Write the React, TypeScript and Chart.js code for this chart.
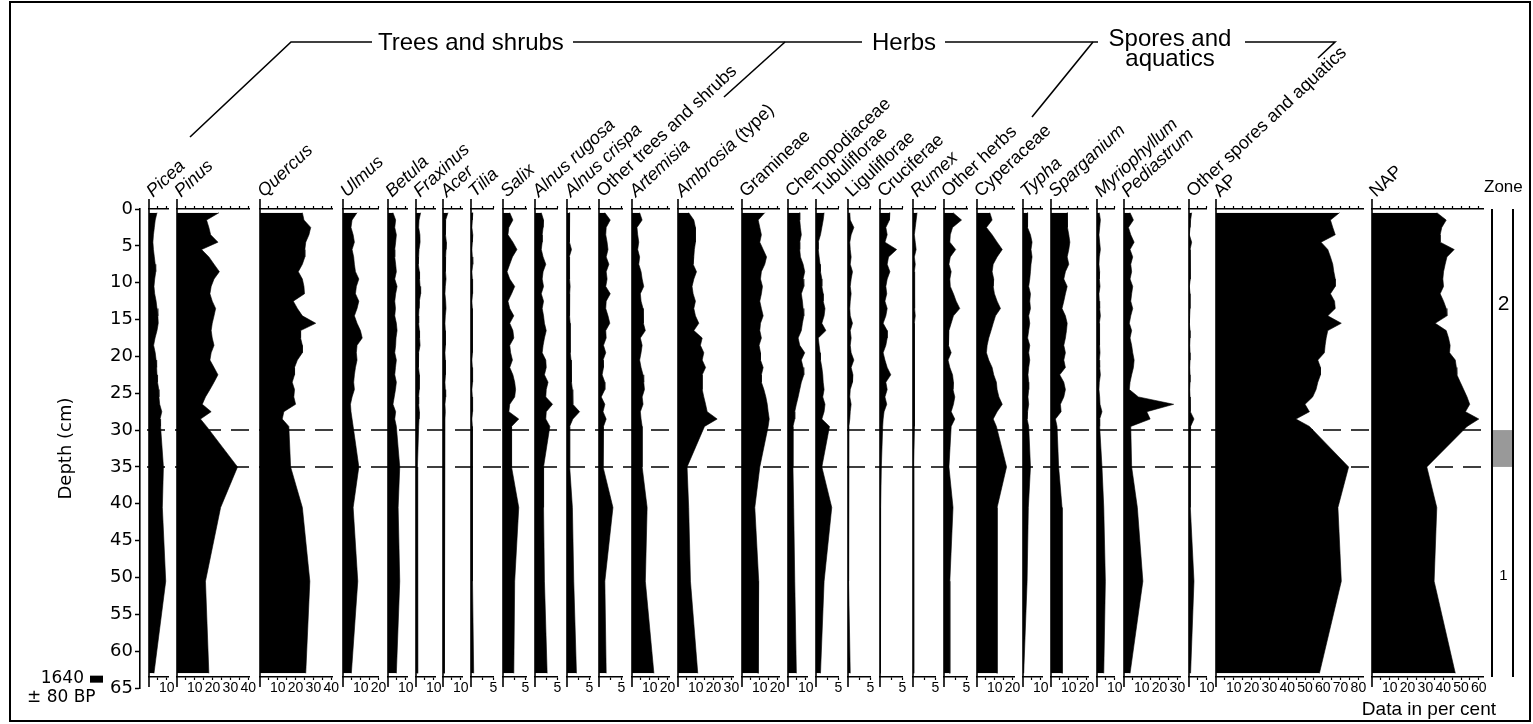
import React, { useEffect, useRef } from "react";
import { Chart, registerables } from "chart.js";

Chart.register(...registerables);

const SANS = '"Liberation Sans", Arial, Helvetica, sans-serif';
const WIDE = '"DejaVu Sans", Verdana, sans-serif';
Chart.defaults.color = "#000";
Chart.defaults.font.family = SANS;

// ---------------- data (per cent) ----------------
const depths = [0.5, 1.5, 2.5, 3.5, 4.5, 5.5, 6.5, 7.5, 8.5, 9.5, 10.5, 11.5, 12.5, 13.5, 14.5, 15.5, 16.5, 17.5, 18.5, 19.5, 20.5, 21.5, 22.5, 23.5, 24.5, 25.5, 26.5, 27.5, 28.5, 29.5, 35, 40.5, 50.5, 63];

const picea = [4.5, 3.5, 3, 2.5, 2.2, 2.5, 3, 3.5, 3.8, 3.2, 2.8, 3.2, 4, 4.5, 5, 5.2, 4.5, 3.4, 2.6, 3.5, 4, 4.3, 4.5, 4.8, 5.5, 5.6, 6, 7.2, 6.2, 6.5, 8.1, 7.5, 9.4, 2.8];
const pinus = [23.6, 16.6, 17.9, 18.9, 23, 13.8, 17.9, 20.8, 23.8, 20.8, 19.2, 18.5, 19.8, 21.7, 20.8, 19.8, 19.2, 19.8, 20.8, 19.2, 18.5, 20.8, 23, 20.8, 18.5, 16, 14.2, 19.2, 13.2, 16.6, 34, 24.5, 16, 17.9];
const quercus = [23.8, 24.7, 28.5, 27.5, 25.7, 25.2, 25.2, 23.8, 21.5, 23.8, 24.7, 25, 18.7, 21, 23.8, 31.3, 22.8, 22.8, 23.8, 23.8, 21, 19.4, 19.4, 18.1, 19.4, 19, 20, 13.4, 12.5, 16.2, 17.2, 23.8, 28, 25.7];
const ulmus = [7.9, 5.1, 4.5, 5.7, 6.4, 5.1, 6, 6.4, 7, 8.9, 7.5, 7, 8.9, 7.9, 6.4, 7.9, 9.8, 10.8, 7.9, 7.5, 7.9, 7, 6.4, 6, 6.4, 5.1, 4.2, 4.5, 5.1, 5.7, 8.9, 5.7, 8.3, 4.7];
const betula = [2.8, 4.3, 3.8, 4.7, 4.3, 3.8, 3.8, 4.3, 4.7, 3.8, 5.1, 4.3, 3.8, 4.2, 3.8, 4.7, 5.1, 4.5, 4.3, 3.8, 4.7, 4.2, 3.8, 4.7, 4.2, 3.5, 2.8, 4.3, 3.8, 4.7, 6.6, 5.7, 6.6, 4.7];
const fraxinus = [2.6, 1.7, 1.5, 2.2, 2.3, 1.7, 1.5, 1.3, 1.9, 2, 2.3, 2.6, 1.9, 1.7, 1.5, 1.5, 1.9, 2, 2.3, 1.5, 1.3, 1.5, 1.9, 1.9, 1.7, 1.5, 1.5, 1.9, 1.7, 1.5, 0.8, 0.8, 1, 1];
const acer = [2.8, 1.5, 1.3, 1.5, 1.9, 1.7, 1.5, 1.3, 1.5, 1.7, 1.3, 1.1, 1.5, 1.7, 1.3, 1.1, 1.3, 1.5, 1.3, 1.1, 1.3, 1.5, 1.3, 1.1, 1.3, 1.5, 1.1, 1.3, 1.1, 0.9, 0.8, 0.8, 0.8, 0.6];
const tilia = [0.4, 0.3, 0.2, 0.4, 0.3, 0.2, 0.3, 0.4, 0.2, 0.3, 0.4, 0.3, 0.2, 0.3, 0.4, 0.3, 0.3, 0.3, 0.4, 0.3, 0.2, 0.3, 0.4, 0.3, 0.2, 0.3, 0.4, 0.3, 0.2, 0.3, 0.3, 0.3, 0.4, 0.6];
const salix = [1.5, 2.2, 1.3, 1.1, 2.2, 3.1, 2.1, 1.5, 0.9, 1.5, 2.6, 1.9, 1.1, 1.5, 2.4, 1.5, 2.2, 2.4, 1.5, 1.7, 2.1, 1.5, 2.2, 2.6, 2.8, 2.6, 1.5, 1.3, 3.5, 1.9, 1.9, 3.5, 2.6, 2.4];
const alnusRugosa = [1.4, 1.9, 1.8, 1.6, 1.6, 1.4, 1.8, 2.4, 1.8, 1.6, 1.9, 1.4, 1.9, 1.6, 1.9, 2.1, 2.5, 2.1, 1.8, 1.6, 2.4, 2.5, 2.1, 2.9, 2.5, 2.4, 3.9, 2.5, 2.4, 3.3, 1.9, 1.9, 2.1, 2.7];
const alnusCrispa = [0.6, 0.5, 0.5, 0.6, 0.6, 1, 0.5, 0.5, 0.6, 0.6, 0.7, 0.6, 0.5, 0.6, 0.6, 0.7, 0.7, 0.7, 0.7, 0.8, 0.9, 0.9, 1, 1.1, 1.2, 1.3, 1.3, 2.8, 1.3, 0.6, 0.6, 1.2, 1.5, 2.1];
const otherTrees = [1.3, 2.5, 1.6, 1.5, 1.8, 2, 1.6, 2.2, 1.6, 1.8, 1.5, 2.5, 1.6, 1.5, 2, 2.4, 1.5, 1.6, 1, 1.5, 0.9, 1, 0.7, 1.3, 1.3, 0.5, 1.3, 0.9, 1.6, 1, 0.9, 3.1, 1.3, 1.6];
const artemisia = [4.3, 5.7, 2.8, 3.2, 3.8, 3.2, 4.3, 3.8, 5.1, 5.7, 6.6, 4.7, 5.1, 6.2, 6.6, 6.2, 7.5, 4.7, 5.7, 5.1, 4.3, 5.1, 6.2, 6.6, 7, 5.7, 6.2, 4.7, 5.1, 5.7, 5.7, 8.5, 7.5, 12.3];
const ambrosia = [6, 8.9, 9.8, 9.8, 9.8, 9.2, 8.9, 8.5, 10.4, 8.9, 7.9, 8.5, 9.8, 8.9, 9.8, 11.7, 8.9, 13.6, 12.6, 14.5, 13.6, 15.5, 13.6, 13.6, 13.6, 14.5, 15.5, 16.4, 22, 14.9, 5.1, 6, 7, 11.1];
const gramineae = [12.8, 9.1, 10, 10.9, 10, 11.9, 13.8, 12.8, 10.9, 10.4, 11.5, 10.9, 10, 10.9, 11.9, 10.4, 10, 10.9, 9.6, 10.4, 10.4, 11.9, 10.9, 10.9, 12.3, 13.4, 14.2, 14.7, 15.3, 14.7, 10, 7.2, 9.4, 9.1];
const chenopodiaceae = [6.6, 6.6, 7, 7.5, 6.6, 6.6, 7, 8.5, 9.4, 8.5, 8.9, 7.5, 8.1, 8.5, 8.9, 8.1, 7.5, 5.7, 6.6, 9.4, 7.5, 8.5, 8.9, 7.5, 6.6, 5.7, 4.7, 3.8, 3.8, 2.8, 2.8, 3.2, 3.8, 4.7];
const tubuliflorae = [1.8, 1.6, 1.3, 1, 0.5, 0.5, 0.7, 0.9, 1, 1.3, 1.3, 1.6, 1.6, 2, 1.8, 1.3, 2.2, 0.5, 0.7, 0.9, 1, 1.3, 1.5, 1.6, 1.8, 1.5, 2, 1.8, 1.3, 3, 1.3, 3.5, 1.8, 1];
const liguliflorae = [0.4, 0.5, 1.3, 0.7, 0.4, 0.5, 0.7, 0.5, 1, 0.7, 0.5, 0.7, 0.5, 0.4, 0.5, 1, 0.5, 0.7, 0.5, 0.7, 1.3, 0.7, 1.1, 1, 0.5, 0.4, 0.7, 0.5, 0.4, 0.2, 0.15, 0.15, 0.1, 0.5];
const cruciferae = [2.2, 2.1, 1.3, 1.6, 1.1, 3.7, 1.9, 1.6, 2.2, 1.6, 1.3, 1.5, 1.1, 1.6, 1.3, 0.7, 1.6, 1.6, 1.3, 0.7, 1.1, 1.6, 2.4, 1.3, 1.6, 1.1, 1.5, 0.9, 0.7, 0.6, 0.3, 0.15, 0.1, 0.1];
const rumex = [0.9, 0.7, 0.5, 0.3, 0.5, 0.7, 0.3, 0.5, 0.3, 0.4, 0.3, 0.4, 0.3, 0.4, 0.5, 0.3, 0.4, 0.3, 0.4, 0.3, 0.3, 0.4, 0.3, 0.3, 0.4, 0.3, 0.3, 0.4, 0.3, 0.3, 0.15, 0.15, 0.15, 0.2];
const otherHerbs = [2, 3.9, 1.9, 1.4, 1.3, 2.6, 1.4, 1.1, 1.6, 1.3, 1.4, 2.1, 2.7, 3.5, 2.1, 1.6, 1.1, 0.9, 1.1, 1.6, 0.9, 1.3, 1.9, 2.1, 2, 2.4, 2.1, 1.6, 2.4, 1.6, 1.1, 2, 1.3, 1.3];
const cyperaceae = [7.2, 8.5, 5.3, 8.5, 11.3, 14.2, 11.3, 9.1, 8.5, 9.4, 9.1, 9.8, 11.3, 13.2, 10.4, 9.1, 7.9, 6.6, 5.7, 5.3, 6.6, 8.5, 9.4, 10.9, 11.3, 12.3, 14.2, 11.3, 9.1, 10.9, 16.6, 11.3, 11.3, 11.3];
const typha = [2.6, 2.3, 2.8, 4.2, 5.1, 4.5, 5.1, 4.5, 4.2, 3.8, 3.2, 4.2, 3.8, 4.2, 3.2, 3.8, 3.2, 2.6, 3.8, 3.2, 3.8, 3.2, 2.8, 3.2, 3.2, 2.8, 3.2, 2.6, 2.3, 3.2, 4.2, 3, 2.3, 0.4];
const sparganium = [9.1, 9.4, 9.1, 10, 10.6, 10, 9.1, 10, 8.1, 7.2, 9.1, 8.1, 7.2, 6.2, 8.1, 9.1, 8.7, 8.1, 7.2, 8.1, 7.2, 8.1, 4.9, 7.2, 8.1, 7.2, 5.3, 5.7, 2.5, 3.4, 4.3, 6.2, 6.2, 6.4];
const myriophyllum = [1.3, 1.9, 1.5, 1.1, 1.5, 1.9, 1.3, 1.1, 1.5, 1.3, 1.7, 1.1, 1.3, 1.5, 1.9, 1.3, 1.5, 1.5, 1.3, 1.7, 1.3, 1.5, 1.9, 1.3, 1.1, 1.5, 1.7, 2.8, 1.5, 1.5, 2.8, 3.8, 4.7, 3.8];
const pediastrum = [3.4, 5.3, 2.5, 3.8, 5.7, 3.4, 4.9, 3.8, 4.3, 3.4, 4.9, 4.3, 3.8, 4.9, 3.8, 3, 4.3, 3.4, 4.3, 4.9, 5.7, 5.3, 4.3, 3.4, 3, 8.1, 27.9, 12.8, 14.7, 3.8, 4.3, 7.5, 10.6, 3.4];
const otherSpores = [1.5, 0.9, 0.6, 0.2, 1.5, 0.6, 0.6, 0.9, 0.9, 0.6, 0.2, 0.6, 0.6, 0.6, 0.4, 0.2, 0.6, 0.6, 0.4, 0.6, 0.6, 0.4, 0.6, 0.6, 0.4, 0.6, 0.9, 0.6, 2.8, 0.9, 0.6, 0.9, 2.8, 0.9];
const ap = [69.4, 64.3, 65.6, 67, 59, 62.8, 64.3, 65.6, 66.2, 67, 67, 64.3, 66.6, 67, 62.8, 70.4, 62.8, 61.9, 61.3, 60.9, 57.2, 58.7, 58.7, 57.2, 56.2, 54.3, 50, 52.5, 44.9, 52.5, 74.5, 68.5, 70.4, 58.1];
const nap = [36.4, 41.7, 39.2, 38.3, 38.3, 46.2, 42.1, 41.1, 40.2, 39.8, 40.2, 38.3, 40.2, 41.7, 42.1, 35.5, 41.7, 43, 43.9, 43.6, 46.8, 47.4, 47.7, 49.6, 51.5, 53.4, 54.9, 52.5, 60, 53.4, 30.8, 36.4, 34.9, 46.8];

// axis ticks
const ticks5 = [2.5, 5];
const ticks10 = [5, 10];
const ticks20 = [5, 10, 15, 20];
const ticks30 = [5, 10, 15, 20, 25, 30];
const ticks40 = [5, 10, 15, 20, 25, 30, 35, 40];
const ticks60 = [5, 10, 15, 20, 25, 30, 35, 40, 45, 50, 55, 60];
const ticks80 = [5, 10, 15, 20, 25, 30, 35, 40, 45, 50, 55, 60, 65, 70, 75, 80];
const labelsTens = [10, 20, 30, 40, 50, 60, 70, 80];
const labelsFive = [5];
const depthTicks = [0, 5, 10, 15, 20, 25, 30, 35, 40, 45, 50, 55, 60, 65];

// zones
const zoneBoundaries = [30, 35];
const zoneBand = [30, 35];
const zoneNames = ["2", "1"];
const zoneLabelDepths = [12.9, 49.8];
const dateDepth = 63.8;
const dateText = ["1640", "\u00b1 80 BP"];

// ---------------- layout ----------------
const S = 1.78; // px per % (normal)
const S5 = 4.5; // px per % (exaggerated)
const AREA_TOP = 209;
const AREA_BOTTOM = 677;
const PANEL_DEPTH_MAX = 63.5;
const DEPTH_MAX = 65;

type Panel = {
  name: string;
  rest?: string;
  italic: boolean;
  values: number[];
  left: number;
  max: number;
  ppu: number;
  ticks: number[];
  labels: number[];
};

const panels: Panel[] = [
  { name: "Picea", italic: true, values: picea, left: 149, max: 10.7, ppu: S, ticks: ticks10, labels: labelsTens },
  { name: "Pinus", italic: true, values: pinus, left: 177, max: 41, ppu: S, ticks: ticks40, labels: labelsTens },
  { name: "Quercus", italic: true, values: quercus, left: 260, max: 41, ppu: S, ticks: ticks40, labels: labelsTens },
  { name: "Ulmus", italic: true, values: ulmus, left: 343, max: 20.2, ppu: S, ticks: ticks20, labels: labelsTens },
  { name: "Betula", italic: true, values: betula, left: 388, max: 10.7, ppu: S, ticks: ticks10, labels: labelsTens },
  { name: "Fraxinus", italic: true, values: fraxinus, left: 416, max: 10.7, ppu: S, ticks: ticks10, labels: labelsTens },
  { name: "Acer", italic: true, values: acer, left: 443, max: 10.7, ppu: S, ticks: ticks10, labels: labelsTens },
  { name: "Tilia", italic: true, values: tilia, left: 471, max: 5.1, ppu: S5, ticks: ticks5, labels: labelsFive },
  { name: "Salix", italic: true, values: salix, left: 503, max: 5.3, ppu: S5, ticks: ticks5, labels: labelsFive },
  { name: "Alnus rugosa", italic: true, values: alnusRugosa, left: 535, max: 5.1, ppu: S5, ticks: ticks5, labels: labelsFive },
  { name: "Alnus crispa", italic: true, values: alnusCrispa, left: 567, max: 5.3, ppu: S5, ticks: ticks5, labels: labelsFive },
  { name: "Other trees and shrubs", italic: false, values: otherTrees, left: 599, max: 5.3, ppu: S5, ticks: ticks5, labels: labelsFive },
  { name: "Artemisia", italic: true, values: artemisia, left: 632, max: 20.8, ppu: S, ticks: ticks20, labels: labelsTens },
  { name: "Ambrosia", rest: " (type)", italic: true, values: ambrosia, left: 678, max: 30.9, ppu: S, ticks: ticks30, labels: labelsTens },
  { name: "Gramineae", italic: false, values: gramineae, left: 742, max: 21.3, ppu: S, ticks: ticks20, labels: labelsTens },
  { name: "Chenopodiaceae", italic: false, values: chenopodiaceae, left: 788, max: 10.7, ppu: S, ticks: ticks10, labels: labelsTens },
  { name: "Tubuliflorae", italic: false, values: tubuliflorae, left: 816, max: 5.1, ppu: S5, ticks: ticks5, labels: labelsFive },
  { name: "Liguliflorae", italic: false, values: liguliflorae, left: 848, max: 5.1, ppu: S5, ticks: ticks5, labels: labelsFive },
  { name: "Cruciferae", italic: false, values: cruciferae, left: 880, max: 5.1, ppu: S5, ticks: ticks5, labels: labelsFive },
  { name: "Rumex", italic: true, values: rumex, left: 913, max: 4.9, ppu: S5, ticks: ticks5, labels: labelsFive },
  { name: "Other herbs", italic: false, values: otherHerbs, left: 944, max: 5.3, ppu: S5, ticks: ticks5, labels: labelsFive },
  { name: "Cyperaceae", italic: false, values: cyperaceae, left: 977, max: 20.8, ppu: S, ticks: ticks20, labels: labelsTens },
  { name: "Typha", italic: true, values: typha, left: 1023, max: 10.7, ppu: S, ticks: ticks10, labels: labelsTens },
  { name: "Sparganium", italic: true, values: sparganium, left: 1051, max: 20.8, ppu: S, ticks: ticks20, labels: labelsTens },
  { name: "Myriophyllum", italic: true, values: myriophyllum, left: 1097, max: 10.1, ppu: S, ticks: ticks10, labels: labelsTens },
  { name: "Pediastrum", italic: true, values: pediastrum, left: 1124, max: 31.5, ppu: S, ticks: ticks30, labels: labelsTens },
  { name: "Other spores and aquatics", italic: false, values: otherSpores, left: 1189, max: 10.1, ppu: S, ticks: ticks10, labels: labelsTens },
  { name: "AP", italic: false, values: ap, left: 1216, max: 82.6, ppu: S, ticks: ticks80, labels: labelsTens },
  { name: "NAP", italic: false, values: nap, left: 1372, max: 62.4, ppu: S, ticks: ticks60, labels: labelsTens },
];

const ZONE_LEFT = 1492;
const ZONE_RIGHT = 1513;
const DASH_START = 147;

const headerLines: number[][][] = [
  [[190, 137], [291, 42], [372, 42]],
  [[573, 42], [862, 42]],
  [[785, 42], [724, 97]],
  [[945, 42], [1098, 42]],
  [[1093, 42], [1032, 117]],
  [[1245, 42], [1335, 42], [1318, 58]],
];

// ---------------- panel chart ----------------
const PADX = 16;
const PADTOP = 10;
const TOPH = 4;
const BOTH = 26;
const PADBOT = 2;

const leftLinePlugin = {
  id: "leftLine",
  afterDraw(chart: any) {
    const { ctx, chartArea } = chart;
    const x = chart.scales.x.getPixelForValue(0);
    ctx.save();
    ctx.strokeStyle = "#000";
    ctx.lineWidth = 1.6;
    ctx.beginPath();
    ctx.moveTo(x, chartArea.top - 10);
    ctx.lineTo(x, chartArea.bottom + 10);
    ctx.stroke();
    ctx.restore();
  },
};

function PanelChart({ p }: { p: Panel }) {
  const ref = useRef<HTMLCanvasElement>(null);
  const areaW = p.max * p.ppu;
  const W = Math.ceil(areaW) + 2 * PADX;
  const H = PADTOP + TOPH + (AREA_BOTTOM - AREA_TOP) + BOTH + PADBOT;
  useEffect(() => {
    const setTicks = (scale: any) => {
      scale.ticks = p.ticks.map((v) => ({ value: v }));
    };
    const grid = {
      display: true,
      drawOnChartArea: false,
      drawTicks: true,
      tickLength: 3,
      tickColor: "#000",
      tickWidth: 1.2,
      color: "#000",
    };
    const border = { display: true, color: "#000", width: 1.5 };
    const chart = new Chart(ref.current as HTMLCanvasElement, {
      type: "line",
      data: {
        datasets: [
          {
            data: depths.map((d, i) => ({ x: p.values[i], y: d })),
            fill: "origin",
            backgroundColor: "#000",
            borderColor: "#000",
            borderWidth: 0.6,
            pointRadius: 0,
            tension: 0,
          },
        ],
      },
      options: {
        indexAxis: "y",
        animation: false,
        responsive: false,
        devicePixelRatio: 1,
        events: [],
        layout: { padding: { left: PADX, right: W - PADX - areaW, top: PADTOP, bottom: PADBOT } },
        plugins: { legend: { display: false }, tooltip: { enabled: false } },
        scales: {
          x: {
            type: "linear",
            position: "bottom",
            min: 0,
            max: p.max,
            bounds: "data",
            grid,
            border,
            ticks: {
              display: true,
              padding: 0,
              autoSkip: false,
              maxRotation: 0,
              minRotation: 0,
              color: "#000",
              font: { family: SANS, size: 14 },
              callback: (v: any) => (p.labels.includes(Number(v)) ? String(v) : ""),
            },
            afterBuildTicks: setTicks,
            afterFit: (s: any) => {
              s.height = BOTH;
              s.paddingLeft = 0;
              s.paddingRight = 0;
            },
          },
          xTop: {
            type: "linear",
            axis: "x",
            position: "top",
            min: 0,
            max: p.max,
            bounds: "data",
            grid,
            border,
            ticks: { display: false },
            afterBuildTicks: setTicks,
            afterFit: (s: any) => {
              s.height = TOPH;
              s.paddingLeft = 0;
              s.paddingRight = 0;
            },
          },
          y: { type: "linear", min: 0, max: PANEL_DEPTH_MAX, reverse: true, display: false },
        },
      } as any,
      plugins: [leftLinePlugin],
    });
    return () => chart.destroy();
  }, []);
  return (
    <canvas
      ref={ref}
      width={W}
      height={H}
      style={{ position: "absolute", left: p.left - PADX, top: AREA_TOP - PADTOP - TOPH, width: W, height: H }}
    />
  );
}

// ---------------- background (depth axis, zones, header lines) ----------------
const bgPlugin = {
  id: "bgDecor",
  afterDraw(chart: any) {
    const { ctx } = chart;
    const y = chart.scales.y;
    ctx.save();
    ctx.strokeStyle = "#000";
    ctx.lineWidth = 1.6;
    headerLines.forEach((pts) => {
      ctx.beginPath();
      pts.forEach(([px, py], i) => (i === 0 ? ctx.moveTo(px, py) : ctx.lineTo(px, py)));
      ctx.stroke();
    });
    ctx.lineWidth = 1.5;
    ctx.setLineDash([18, 10]);
    zoneBoundaries.forEach((d) => {
      const py = y.getPixelForValue(d);
      ctx.beginPath();
      ctx.moveTo(DASH_START, py);
      ctx.lineTo(ZONE_LEFT, py);
      ctx.stroke();
    });
    ctx.setLineDash([]);
    const top = y.getPixelForValue(0);
    const bot = y.getPixelForValue(PANEL_DEPTH_MAX);
    ctx.fillStyle = "#999999";
    const b0 = y.getPixelForValue(zoneBand[0]);
    const b1 = y.getPixelForValue(zoneBand[1]);
    ctx.fillRect(ZONE_LEFT, b0, ZONE_RIGHT - ZONE_LEFT, b1 - b0);
    ctx.lineWidth = 2;
    [ZONE_LEFT, ZONE_RIGHT].forEach((x) => {
      ctx.beginPath();
      ctx.moveTo(x, top);
      ctx.lineTo(x, bot);
      ctx.stroke();
    });
    ctx.fillStyle = "#000";
    ctx.textAlign = "center";
    ctx.textBaseline = "middle";
    zoneNames.forEach((n, i) => {
      ctx.font = `${i === 0 ? 21 : 15}px ${SANS}`;
      ctx.fillText(n, (ZONE_LEFT + ZONE_RIGHT) / 2 + 1, y.getPixelForValue(zoneLabelDepths[i]));
    });
    const yd = y.getPixelForValue(dateDepth);
    ctx.fillRect(90, yd - 3.5, 13, 7);
    ctx.font = `17px ${WIDE}`;
    ctx.textAlign = "right";
    ctx.fillText(dateText[0], 84, yd - 1);
    ctx.textAlign = "left";
    ctx.fillText(dateText[1], 27, yd + 18);
    ctx.restore();
  },
};

function BackgroundChart() {
  const ref = useRef<HTMLCanvasElement>(null);
  useEffect(() => {
    const chart = new Chart(ref.current as HTMLCanvasElement, {
      type: "line",
      data: { datasets: [] },
      options: {
        animation: false,
        responsive: false,
        devicePixelRatio: 1,
        events: [],
        layout: { padding: { left: 0, right: 40, top: AREA_TOP, bottom: 724 - 688 } },
        plugins: { legend: { display: false }, tooltip: { enabled: false } },
        scales: {
          x: { type: "linear", min: 0, max: 1, display: false },
          y: {
            type: "linear",
            position: "left",
            min: 0,
            max: DEPTH_MAX,
            reverse: true,
            afterBuildTicks: (s: any) => {
              s.ticks = depthTicks.map((v) => ({ value: v }));
            },
            ticks: { color: "#000", padding: 2, font: { family: WIDE, size: 18 } },
            grid: { display: true, drawOnChartArea: false, drawTicks: true, tickLength: 5, tickColor: "#000", tickWidth: 1.5, color: "#000" },
            border: { display: true, color: "#000", width: 1.6 },
            title: { display: true, text: "Depth (cm)", color: "#000", font: { family: WIDE, size: 18 }, padding: { top: 56, bottom: 0 } },
            afterFit: (s: any) => {
              s.width = 140;
              s.paddingTop = 0;
              s.paddingBottom = 0;
            },
          },
        },
      } as any,
      plugins: [bgPlugin],
    });
    return () => chart.destroy();
  }, []);
  return <canvas ref={ref} width={1533} height={724} style={{ position: "absolute", left: 0, top: 0, width: 1533, height: 724 }} />;
}

// ---------------- page ----------------
const LABEL_SIZE = 18;
const HEAD_SIZE = 24;

export default function App() {
  return (
    <div
      style={{
        position: "absolute",
        left: 0,
        top: 0,
        width: 1533,
        height: 724,
        background: "#fff",
        overflow: "hidden",
        fontFamily: SANS,
        color: "#000",
      }}
    >
      <BackgroundChart />
      {panels.map((p) => (
        <PanelChart key={p.name} p={p} />
      ))}
      {panels.map((p) => (
        <div
          key={"l" + p.name}
          style={{
            position: "absolute",
            left: p.left + 6,
            top: 200 - LABEL_SIZE,
            height: LABEL_SIZE,
            lineHeight: LABEL_SIZE + "px",
            fontSize: LABEL_SIZE,
            whiteSpace: "nowrap",
            transformOrigin: "0 100%",
            transform: "rotate(-43deg)",
          }}
        >
          <span style={{ fontStyle: p.italic ? "italic" : "normal" }}>{p.name}</span>
          {p.rest ? <span>{p.rest}</span> : null}
        </div>
      ))}
      <div style={{ position: "absolute", left: 378, top: 28, fontSize: HEAD_SIZE, lineHeight: "28px", whiteSpace: "nowrap" }}>Trees and shrubs</div>
      <div style={{ position: "absolute", left: 872, top: 28, fontSize: HEAD_SIZE, lineHeight: "28px", whiteSpace: "nowrap" }}>Herbs</div>
      <div style={{ position: "absolute", left: 1095, top: 28, width: 150, textAlign: "center", fontSize: HEAD_SIZE, lineHeight: "20px", whiteSpace: "nowrap" }}>
        Spores and
        <br />
        aquatics
      </div>
      <div style={{ position: "absolute", left: 1484, top: 176, fontSize: 17, lineHeight: "22px" }}>Zone</div>
      <div style={{ position: "absolute", left: 1300, width: 196, textAlign: "right", top: 697, fontSize: 19, lineHeight: "24px", whiteSpace: "nowrap" }}>
        Data in per cent
      </div>
      <div style={{ position: "absolute", left: 9, top: 1, width: 1522, height: 721, boxSizing: "border-box", border: "2px solid #000" }} />
    </div>
  );
}
